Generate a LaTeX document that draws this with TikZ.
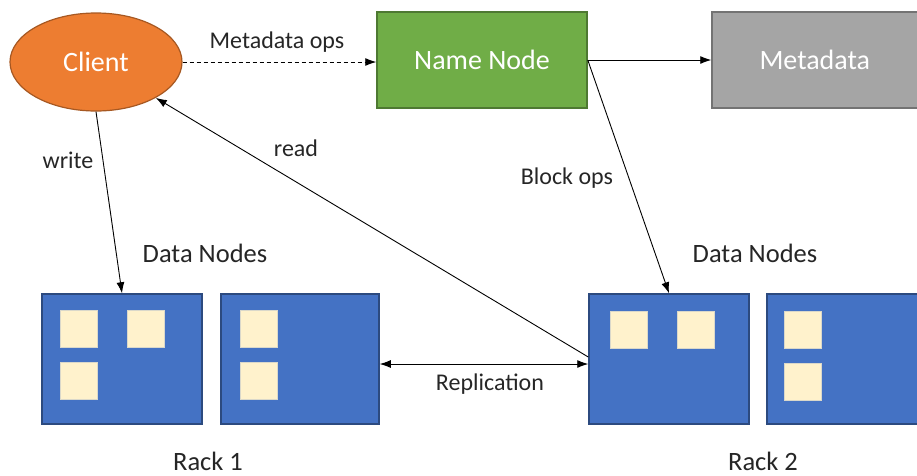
\documentclass[tikz,border=0pt]{standalone}
\usepackage{fontspec}
\setmainfont{Carlito}
\usetikzlibrary{shapes.geometric,arrows.meta,positioning}
\definecolor{clientorange}{HTML}{ED7D31}
\definecolor{namegreen}{HTML}{70AD47}
\definecolor{metagray}{HTML}{A5A5A5}
\definecolor{rackblue}{HTML}{4472C4}
\definecolor{blockyellow}{HTML}{FFF2CC}
\def\bigfont{\fontsize{28}{32}\selectfont}
\def\lblfont{\fontsize{24}{28}\selectfont}
\tikzset{
	client/.style={
		ellipse,
		draw=clientorange!70!black,
		fill=clientorange,
		line width=1.2pt,
		text=white,
		font=\bigfont,
		minimum width=172pt,
		minimum height=98pt,
		inner sep=0pt,
	},
	mainbox/.style={
		rectangle,
		line width=1.5pt,
		text=white,
		font=\bigfont,
		minimum height=96pt,
		inner sep=0pt,
	},
	rackbox/.style={
		rectangle,
		draw=rackblue!65!black,
		fill=rackblue,
		line width=1.5pt,
		minimum width=160pt,
		minimum height=130pt,
		inner sep=0pt,
	},
	block/.style={
		rectangle,
		fill=blockyellow,
		draw=blockyellow!80!rackblue,
		line width=0.4pt,
		minimum size=37pt,
		inner sep=0pt,
	},
	lbl/.style={font=\lblfont, text=black!85},
	head/.style={font=\fontsize{26.5}{30}\selectfont, text=black!85},
	conn/.style={line width=0.9pt, -{Latex[length=11pt,width=8pt]}},
}

\begin{document}
\begin{tikzpicture}[x=1pt,y=-1pt]
\useasboundingbox (0,0) rectangle (917,475);
\clip (0,0) rectangle (917,475);

% top row
\node[client] (client) at (96,62) {Client};
\node[mainbox, draw=namegreen!70!black, fill=namegreen, minimum width=210pt] (namenode) at (482,60) {Name Node};
\node[mainbox, draw=metagray!70!black, fill=metagray, minimum width=220pt, text width=205pt, align=left] (metadata) at (822,60) {\hspace{40pt}Metadata};

% racks
\node[rackbox] (rack1a) at (122,359) {};
\node[rackbox, minimum width=158pt] (rack1b) at (300,359) {};
\node[rackbox] (rack2a) at (669,359) {};
\node[rackbox] (rack2b) at (847,359) {};

\node[block, below right=17pt and 19pt of rack1a.north west] (b1a1) {};
\node[block, below right=17pt and 86pt of rack1a.north west] (b1a2) {};
\node[block, below right=69pt and 19pt of rack1a.north west] (b1a3) {};
\node[block, below right=17pt and 20pt of rack1b.north west] (b1b1) {};
\node[block, below right=69pt and 20pt of rack1b.north west] (b1b2) {};
\node[block, below right=18pt and 22pt of rack2a.north west] (b2a1) {};
\node[block, below right=18pt and 89pt of rack2a.north west] (b2a2) {};
\node[block, below right=18pt and 18pt of rack2b.north west] (b2b1) {};
\node[block, below right=70pt and 18pt of rack2b.north west] (b2b2) {};

\node[head] (dn1) at (205,253) {Data Nodes};
\node[head] (dn2) at (755,253) {Data Nodes};
\node[head] (rack1) at (208,461) {Rack 1};
\node[head] (rack2) at (763,461) {Rack 2};

% connectors
\draw[conn, dash pattern=on 4pt off 3pt] (client.east) -- (client.east -| namenode.west);
\draw[conn] (namenode.east) -- (metadata.west);
\draw[conn] (namenode.east) -- (rack2a.north);
\draw[conn] (client.south) -- (rack1a.north);
\draw[conn] ([yshift=2pt]rack2a.west) -- (client);
\draw[line width=0.9pt, {Latex[length=11pt,width=8pt]}-{Latex[length=11pt,width=8pt]}] ([yshift=-5pt]rack1b.east) -- ([yshift=-5pt]rack2a.west);

% labels
\node[lbl] (lmeta) at (277,42) {Metadata ops};
\node[lbl] (lwrite) at (68,160) {write};
\node[lbl] (lread) at (296,148) {read};
\node[lbl] (lblock) at (567,178) {Block ops};
\node[lbl] (lrepl) at (490,384) {Replication};
\end{tikzpicture}
\end{document}
